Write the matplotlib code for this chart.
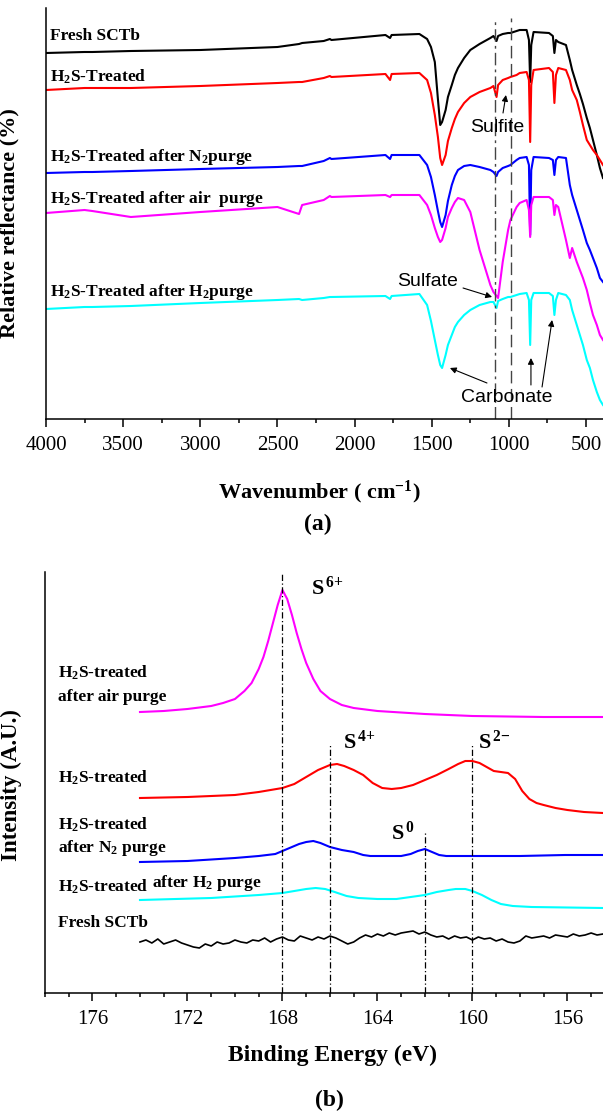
import numpy as np
import matplotlib
matplotlib.use("Agg")
import matplotlib.pyplot as plt
from matplotlib.ticker import MultipleLocator

plt.rcParams["font.family"] = ["Liberation Serif", "DejaVu Serif"]
plt.rcParams["mathtext.fontset"] = "custom"
plt.rcParams["mathtext.rm"] = "Liberation Serif:bold"
plt.rcParams["mathtext.bf"] = "Liberation Serif:bold"
plt.rcParams["mathtext.it"] = "Liberation Serif:bold"

# ---------------- (a) DRIFTS spectra ----------------
wn = [4000, 3750, 3700, 3450, 3000, 2500, 2360, 2340, 2200, 2160, 2150, 1800, 1770, 1760,
      1580, 1530, 1505, 1480, 1460, 1445, 1433, 1410, 1395, 1370, 1350, 1330, 1290, 1250,
      1190, 1120, 1100, 1080, 1070, 1040, 1005, 990, 950, 930, 885, 870, 862, 855, 840,
      740, 715, 705, 695, 680, 630, 605, 590, 560, 540, 520, 495, 475, 455, 430, 410, 390]

fresh = [91.5, 91.75, 91.75, 92, 92.25, 93, 93.75, 94, 94.5, 95, 94.75, 96, 95.25, 96,
         96.25, 95, 93, 89.25, 80, 73.5, 74.25, 77.25, 80.5, 83.5, 86, 87.75, 90.25, 92.25,
         93.75, 95.25, 95.75, 94.5, 95.75, 96.25, 96.5, 96.5, 97, 97.25, 97.25, 94.75, 84.25, 93.5, 96.75,
         96.5, 95.75, 91.5, 94.75, 94.25, 93.5, 89.75, 87.25, 83.5, 81.25, 78.75, 75.25, 72.75, 69.75, 66, 62.75, 60.25]

treated = [82.25, 82.75, 82.75, 82.75, 83.25, 84, 84.25, 84.25, 85.25, 85.75, 85.5, 86.25, 84.75, 86.25,
           86.5, 84.75, 81.5, 76, 70.5, 65.25, 63.5, 66, 69.5, 72.75, 75, 76.75, 79, 80.5,
           81.75, 82.75, 83.25, 80.5, 83.5, 84.75, 85.25, 85.5, 86, 86.5, 86.75, 84.75, 69.25, 83.5, 87.25,
           87.75, 86.75, 79, 86, 87.75, 87.25, 84.75, 82.25, 79.75, 76.75, 73.5, 69.75, 68.5, 67.25, 66, 64.75, 63.5]

n2_purge = [61.5, 61.75, 61.75, 62, 62.5, 63, 63.25, 63.25, 64.5, 65.25, 65, 66, 65, 66,
            66, 63.5, 60.5, 56, 52, 49.25, 48, 51, 54.5, 58.5, 60.75, 62.25, 63.25, 63.5,
            63, 62.25, 61.75, 60.75, 61.75, 62.75, 63.25, 63.5, 64.75, 65.25, 65.5, 63.5, 46, 62.25, 65.5,
            65.25, 64.75, 61, 64.75, 65.5, 65.25, 58.5, 56, 52.25, 49.75, 47.25, 44, 42.25, 40.25, 37.75, 35.25, 34.25]

air_purge = [51.5, 52.25, 52, 50.5, 51.75, 53, 51.25, 53.5, 54.75, 55.75, 55.5, 56, 55.5, 56,
             56, 53.5, 51, 47.75, 45.5, 44.25, 44.75, 47.75, 50.5, 52.75, 54.25, 55.25, 54.75, 51.75,
             42.25, 33.5, 31.75, 30.75, 30.25, 39.25, 47.25, 49.75, 53, 54, 54.75, 52.25, 45.5, 53.5, 55.5,
             55.5, 54.75, 51, 53.5, 53, 44.75, 40.25, 42.75, 39.25, 37.25, 35.25, 32.25, 29, 26, 23.5, 21, 19.75]

h2_purge = [27.5, 28, 28, 28.25, 29, 29.75, 30, 29.75, 30.25, 30.5, 30.5, 30.75, 30, 30.75,
            31.25, 28.5, 24.5, 19.75, 16, 13.5, 12.75, 16, 18.5, 21, 23, 24.25, 26, 27.25,
            28.5, 29.25, 29.25, 27.75, 29.5, 30, 30.5, 30.5, 31, 31.25, 31.5, 29.75, 18.5, 29.75, 31.5,
            31.5, 30.75, 26, 29.75, 31.5, 31, 29.75, 27.25, 23.5, 21, 18.5, 14.75, 12.75, 9.75, 6.75, 4.75, 3.5]

ftir_series = [fresh, treated, n2_purge, air_purge, h2_purge]
ftir_colors = ["black", "#ff0000", "#0000ff", "#ff00ff", "#00ffff"]
ftir_labels = ["Fresh SCTb", r"H$_{\mathbf{2}}$S-Treated",
               r"H$_{\mathbf{2}}$S-Treated after N$_{\mathbf{2}}$purge",
               r"H$_{\mathbf{2}}$S-Treated after air  purge",
               r"H$_{\mathbf{2}}$S-Treated after H$_{\mathbf{2}}$purge"]
ftir_label_y = [95.75, 85.5, 65.5, 55, 31.75]
ftir_vlines = [1090, 985]

# ---------------- (b) XPS S 2p ----------------
be_air = [174.0, 173.0, 172.0, 171.0, 170.5, 170.0, 169.6, 169.3, 169.0, 168.8, 168.6, 168.4, 168.2,
          168.0, 167.8, 167.6, 167.4, 167.2, 167.0, 166.7, 166.4, 166.0, 165.5, 165.0, 164.0, 162.0,
          160.0, 157.0, 154.5]
xps_air = [70.25, 70.5, 71, 71.75, 72.5, 73.5, 75.5, 77.5, 81, 84, 88, 92.5, 97,
           100.75, 98.5, 94.5, 90, 86, 82.5, 78.5, 75.5, 73.5, 72, 71.25, 70.5, 69.75,
           69.25, 69, 69]

be_treated = [174.0, 172.0, 170.0, 169.0, 168.0, 167.5, 167.0, 166.5, 166.0, 165.7, 165.4, 165.0, 164.6,
              164.2, 163.8, 163.4, 163.0, 162.5, 162.0, 161.5, 161.0, 160.6, 160.3, 160.0, 159.7, 159.4,
              159.1, 158.8, 158.5, 158.2, 157.9, 157.6, 157.3, 157.0, 156.5, 156.0, 155.3, 154.5]
xps_treated = [48.75, 49, 49.5, 50.25, 51.25, 52.25, 54, 55.75, 57, 57.25, 56.75, 55.75, 54.5,
               52.5, 51.25, 51, 51.25, 52, 53.25, 54.5, 56, 57.25, 58, 58, 57.5, 56.5,
               55.5, 55.25, 55, 53.5, 50.5, 48.5, 47.5, 47, 46.25, 45.75, 45.25, 45]

be_n2 = [174.0, 172.0, 170.0, 169.0, 168.3, 167.8, 167.3, 167.0, 166.7, 166.4, 166.0, 165.5, 165.0,
         164.6, 164.3, 163.0, 162.6, 162.3, 162.0, 161.7, 161.4, 161.1, 158.0, 156.1, 154.5]
xps_n2 = [32.75, 33, 33.75, 34.25, 34.75, 36, 37.25, 37.75, 38, 37.5, 36.5, 35.75, 35.25,
          34.5, 34.25, 34.25, 34.75, 35.5, 36, 35.25, 34.5, 34.25, 34.25, 34.5, 34.5]

be_h2 = [174.0, 171.0, 169.0, 168.0, 167.5, 167.0, 166.6, 166.2, 165.8, 165.3, 164.8, 164.0, 163.2,
         162.6, 162.0, 161.5, 161.0, 160.7, 160.3, 160.0, 159.6, 159.2, 158.8, 158.3, 157.5, 154.5]
xps_h2 = [23.25, 23.75, 24.5, 25, 25.5, 26, 26.25, 26, 25.25, 24.25, 23.75, 23.5, 23.5,
          24, 24.5, 25.25, 25.75, 26, 26, 25.5, 24.5, 23.25, 22.25, 21.75, 21.5, 21.25]

be_fresh = [174.0, 173.75, 173.5, 173.25, 173.0, 172.75, 172.5, 172.25, 172.0, 171.75, 171.5, 171.25,
            171.0, 170.75, 170.5, 170.25, 170.0, 169.75, 169.5, 169.25, 169.0, 168.75, 168.5, 168.25,
            168.0, 167.75, 167.5, 167.25, 167.0, 166.75, 166.5, 166.25, 166.0, 165.75, 165.5, 165.25,
            165.0, 164.75, 164.5, 164.25, 164.0, 163.75, 163.5, 163.25, 163.0, 162.75, 162.5, 162.25,
            162.0, 161.75, 161.5, 161.25, 161.0, 160.75, 160.5, 160.25, 160.0, 159.75, 159.5, 159.25,
            159.0, 158.75, 158.5, 158.25, 158.0, 157.75, 157.5, 157.25, 157.0, 156.75, 156.5, 156.25,
            156.0, 155.75, 155.5, 155.25, 155.0, 154.75, 154.5]
xps_fresh = [12.75, 13.25, 12.5, 13.5, 12.25, 12.75, 13.25, 12.5, 12.0, 11.5, 11.25, 12.25,
             11.75, 12.75, 12.25, 12.5, 13.25, 12.75, 12.5, 13.25, 13.0, 13.75, 12.75, 13.5,
             14.0, 13.25, 13.0, 14.25, 13.75, 13.25, 14.0, 13.5, 14.25, 13.75, 13.0, 12.25,
             12.75, 13.75, 14.5, 14.0, 14.75, 14.25, 15.0, 14.5, 15.0, 15.25, 15.5, 14.75,
             15.25, 14.5, 14.0, 14.25, 13.5, 14.25, 13.75, 14.0, 13.25, 14.0, 13.5, 13.75,
             13.0, 13.5, 12.75, 12.5, 13.0, 14.25, 13.75, 14.0, 14.25, 13.75, 14.5, 14.25,
             14.0, 14.75, 14.25, 14.5, 15.0, 14.5, 14.75]

# binding energy, top of dashed line
xps_vlines = [(168, 105.25), (166, 62.25), (162, 40.5), (160, 62.25)]
state_labels = [(r"S$^{\,\mathbf{6{+}}}$", 166.8, 101.25), (r"S$^{\,\mathbf{4{+}}}$", 165.47, 62.75),
                (r"S$^{\,\mathbf{2{-}}}$", 159.77, 62.75), (r"S$^{\,\mathbf{0}}$", 163.44, 40)]

fig = plt.figure(figsize=(6.03, 11.13), dpi=100)

# ---- panel (a)
ax1 = fig.add_axes([46 / 603, 1 - 419 / 1113, 557 / 603, 411 / 1113])
for vals, c in zip(ftir_series, ftir_colors):
    ax1.plot(wn, vals, color=c, lw=1.5)
ax1.vlines(ftir_vlines[0], 0, 100.25, color="#444444", lw=1.0, linestyles=(0, (9, 3, 2, 3)))
ax1.vlines(ftir_vlines[1], 0, 100.25, color="#444444", lw=1.0, linestyles=(0, (9, 4)))
for lab, yv in zip(ftir_labels, ftir_label_y):
    ax1.text(3975, yv, lab, fontsize=12.5, fontweight="bold", ha="left", va="center")

ann = dict(fontsize=14, family="Liberation Sans", ha="center", va="center")
arr = dict(arrowstyle="-|>", color="black", lw=0.8, mutation_scale=9, shrinkA=0, shrinkB=0)
ax1.text(1077, 73, "Sulfite", **ann)
ax1.annotate("", xy=(1019, 81), xytext=(1038, 76.5), arrowprops=arr)
ax1.text(1524, 34.25, "Sulfate", **ann)
ax1.annotate("", xy=(1109, 30.5), xytext=(1297, 32.75), arrowprops=arr)
ax1.text(1012, 5.5, "Carbonate", **ann)
ax1.annotate("", xy=(1382, 12.75), xytext=(1142, 9), arrowprops=arr)
ax1.annotate("", xy=(857, 15.25), xytext=(857, 8.5), arrowprops=arr)
ax1.annotate("", xy=(720, 24.75), xytext=(785, 8), arrowprops=arr)

ax1.set_xlim(4000, 390)
ax1.set_ylim(0, 102.75)
ax1.xaxis.set_major_locator(MultipleLocator(500))
ax1.xaxis.set_minor_locator(MultipleLocator(250))
ax1.set_yticks([])
ax1.set_ylabel("Relative reflectance (%)", fontsize=16, fontweight="bold")
ax1.yaxis.set_label_coords(-0.047, 0.477)

# ---- panel (b)
ax2 = fig.add_axes([45 / 603, 1 - 993 / 1113, 558 / 603, 421 / 1113])
ax2.plot(be_air, xps_air, color="#ff00ff", lw=1.5)
ax2.plot(be_treated, xps_treated, color="#ff0000", lw=1.5)
ax2.plot(be_n2, xps_n2, color="#0000ff", lw=1.5)
ax2.plot(be_h2, xps_h2, color="#00ffff", lw=1.5)
ax2.plot(be_fresh, xps_fresh, color="black", lw=1.2)
for xv, top in xps_vlines:
    ax2.vlines(xv, 0, top, color="black", lw=0.9, linestyles=(0, (5, 2, 1, 2)))
for lab, xv, yv in state_labels:
    ax2.text(xv, yv, lab, fontsize=16, fontweight="bold", ha="left", va="center")

lab_kw = dict(fontsize=12.5, fontweight="bold", ha="left", va="center")
ax2.text(177.45, 80, r"H$_{\mathbf{2}}$S-treated", **lab_kw)
ax2.text(177.45, 74, "after air purge", **lab_kw)
ax2.text(177.45, 53.75, r"H$_{\mathbf{2}}$S-treated", **lab_kw)
ax2.text(177.45, 42, r"H$_{\mathbf{2}}$S-treated", **lab_kw)
ax2.text(177.45, 36.25, r"after N$_{\mathbf{2}}$ purge", **lab_kw)
ax2.text(177.45, 26.5, r"H$_{\mathbf{2}}$S-treated", **lab_kw)
ax2.text(173.5, 27.5, r"after H$_{\mathbf{2}}$ purge", **lab_kw)
ax2.text(177.45, 17.5, "Fresh SCTb", **lab_kw)

ax2.set_xlim(178, 154.5)
ax2.set_ylim(0, 105.25)
ax2.xaxis.set_major_locator(MultipleLocator(4))
ax2.xaxis.set_minor_locator(MultipleLocator(1))
ax2.set_yticks([])
ax2.set_ylabel("Intensity (A.U.)", fontsize=16.5, fontweight="bold")
ax2.yaxis.set_label_coords(-0.041, 0.494)

for ax in (ax1, ax2):
    for s in ("top", "right"):
        ax.spines[s].set_visible(False)
    for s in ("left", "bottom"):
        ax.spines[s].set_linewidth(1.1)
    ax.tick_params(axis="x", which="major", direction="out", length=6, width=1.1,
                   labelsize=15, pad=6)
    ax.tick_params(axis="x", which="minor", direction="out", length=3, width=1.1)

fig.text(319 / 603, 1 - 492 / 1113, r"Wavenumber ( cm$^{\mathbf{-1}}$)", fontsize=16,
         fontweight="bold", ha="center", va="center")
fig.text(318 / 603, 1 - 524 / 1113, "(a)", fontsize=17, fontweight="bold", ha="center", va="center")
fig.text(333 / 603, 1 - 1055 / 1113, "Binding Energy (eV)", fontsize=17, fontweight="bold",
         ha="center", va="center")
fig.text(329 / 603, 1 - 1100 / 1113, "(b)", fontsize=17, fontweight="bold", ha="center", va="center")

fig.savefig("out.png", dpi=100)
